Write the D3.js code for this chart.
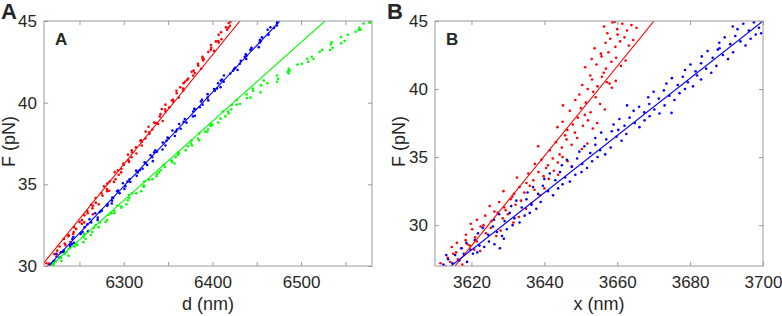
<!DOCTYPE html>
<html><head><meta charset="utf-8">
<script src="https://cdn.jsdelivr.net/npm/d3@7"></script>
<style>
body{margin:0;background:#fff}
svg{display:block}
text{font-family:"Liberation Sans",Arial,Helvetica,sans-serif;fill:#262626}
</style>
</head><body>
<svg id="chart" width="782" height="316"></svg>
<script>
// ---------- Panel A data : [d (nm), F (pN)] ----------
const redA = [[6215,30.05],[6215.5,30.15],[6224,30.58],[6224.4,30.75],[6224.9,30.94],[6233.4,31.37],[6239.8,31.47],[6237.3,31.82],[6237.8,31.89],[6246.2,32.27],
[6252.7,32.59],[6250.2,32.70],[6255.6,33.10],[6265.1,33.17],[6264.6,33.53],[6263.1,33.75],[6268.5,33.88],[6276,34.31],[6283.5,34.61],[6280.9,34.71],
[6281.4,35.05],[6288.9,35.15],[6294.3,35.58],[6289.8,35.75],[6297.3,35.94],[6305.8,36.37],[6305.2,36.47],[6304.7,36.82],[6314.2,36.89],[6313.6,37.27],
[6320.1,37.59],[6319.6,37.70],[6329,38.10],[6328.5,38.17],[6328,38.53],[6336.5,38.75],[6343.9,38.88],[6341.4,39.31],[6342.9,39.61],[6351.3,39.71],
[6355.8,40.05],[6354.3,40.15],[6359.7,40.58],[6367.2,40.75],[6363.7,40.94],[6371.2,41.37],[6372.6,41.47],[6380.1,41.82],[6376.6,41.89],[6384,42.27],
[6389.5,42.59],[6389,42.70],[6395.4,43.10],[6401.9,43.17],[6398.4,43.53],[6403.9,43.75],[6410.3,43.88],[6409.8,44.31],[6415.3,44.61],[6419.7,44.71],[6420.2,44.95],
[6212.7,30.17],[6221.2,30.31],[6221.6,30.73],[6230.1,30.86],[6227.6,31.19],[6234.1,31.28],[6232.5,31.66],[6243.0,31.96],[6243.5,32.08],[6243.9,32.38],
[6255.4,32.67],[6252.9,32.81],[6259.3,33.23],[6258.8,33.36],[6265.3,33.69],[6271.8,33.78],[6268.2,34.16],[6274.7,34.46],[6281.2,34.58],[6277.6,34.88],
[6284.1,35.17],[6290.6,35.31],[6297.0,35.73],[6293.5,35.86],[6300.0,36.19],[6299.5,36.28],[6308.9,36.66],[6309.4,36.96],[6308.9,37.08],[6320.3,37.38],
[6318.8,37.67],[6324.3,37.81],[6324.7,38.23],[6332.2,38.36],[6338.7,38.69],[6334.2,38.78],[6340.6,39.16],[6347.1,39.46],[6346.6,39.58],[6347.0,39.88],
[6355.5,40.17],[6362.0,40.31],[6359.4,40.73],[6366.9,40.86],[6367.4,41.19],[6368.9,41.28],[6378.3,41.66],[6378.8,41.96],[6387.3,42.08],[6383.7,42.38],
[6390.2,42.67],[6388.7,42.81],[6398.1,43.23],[6398.6,43.36],[6407.1,43.69],[6406.6,43.78],[6407.0,44.16],[6416.5,44.46],[6418.0,44.58],[6418.4,44.88]];
const blueA = [[6217,30.07],[6218.3,30.14],[6227.6,30.52],[6228.9,30.84],[6232.2,30.95],[6241.5,31.35],[6243.8,31.42],[6243.1,31.78],[6251.4,32.00],[6259.7,32.13],
[6259,32.56],[6261.3,32.86],[6270.6,32.96],[6272.9,33.30],[6275.2,33.40],[6286.5,33.83],[6286.8,34.00],[6287.1,34.19],[6293.4,34.62],[6300.7,34.72],
[6299,35.07],[6307.3,35.14],[6314.6,35.52],[6313.9,35.84],[6321.2,35.95],[6323.5,36.35],[6332.8,36.42],[6330.1,36.78],[6337.4,37.00],[6343.7,37.13],
[6344,37.56],[6349.3,37.86],[6357.6,37.96],[6354.9,38.30],[6364.2,38.40],[6367.5,38.83],[6368.8,39.00],[6380.1,39.19],[6379.4,39.62],[6385.7,39.72],
[6387,40.07],[6395.3,40.14],[6394.6,40.52],[6401.9,40.84],[6409.2,40.95],[6409.5,41.35],[6410.8,41.42],[6420.1,41.78],[6428.4,42.00],[6425.7,42.13],
[6432,42.56],[6438.3,42.86],[6437.6,42.96],[6443.9,43.30],[6452.2,43.40],[6453.5,43.83],[6455.8,44.00],[6463.1,44.19],[6465.4,44.62],[6472.7,44.72],[6473,44.95],
[6220.2,30.17],[6221.5,30.31],[6223.8,30.73],[6232.1,30.86],[6239.4,31.19],[6239.7,31.28],[6242.0,31.66],[6251.3,31.96],[6253.6,32.08],[6255.9,32.38],
[6263.2,32.67],[6270.5,32.81],[6267.8,33.23],[6274.1,33.36],[6281.4,33.69],[6281.7,33.78],[6288.0,34.16],[6295.3,34.46],[6292.6,34.58],[6301.9,34.88],
[6304.2,35.17],[6306.5,35.31],[6315.8,35.73],[6318.1,35.86],[6326.4,36.19],[6324.7,36.28],[6332.0,36.66],[6334.3,36.96],[6335.6,37.08],[6346.9,37.38],
[6348.2,37.67],[6350.5,37.81],[6358.8,38.23],[6360.1,38.36],[6362.4,38.69],[6370.7,38.78],[6378.0,39.16],[6378.3,39.46],[6380.6,39.58],[6388.9,39.88],
[6388.2,40.17],[6394.5,40.31],[6402.8,40.73],[6405.1,40.86],[6406.4,41.19],[6412.7,41.28],[6413.0,41.66],[6423.3,41.96],[6424.6,42.08],[6430.9,42.38],
[6438.2,42.67],[6436.5,42.81],[6442.8,43.23],[6444.1,43.36],[6453.4,43.69],[6454.7,43.78],[6463.0,44.16],[6462.3,44.46],[6469.6,44.58],[6472.9,44.88]];
const greenA = [[6221,30.02],[6223.2,30.28],[6229.5,30.50],[6237.7,30.63],[6237.9,31.06],[6246.1,31.36],[6254.4,31.46],[6254.6,31.80],[6262.8,31.90],[6266,32.33],
[6268.3,32.50],[6279.5,32.69],[6282.7,33.12],[6285.9,33.22],[6297.2,33.57],[6297.4,33.64],[6304.6,34.02],[6305.8,34.34],[6314.1,34.45],[6322.3,34.85],
[6322.5,34.92],[6328.7,35.28],[6337,35.50],[6337.2,35.63],[6346.4,36.06],[6354.6,36.36],[6353.9,36.46],[6361.1,36.80],[6362.3,36.90],[6372.5,37.33],
[6375.8,37.50],[6385,37.69],[6385.2,38.12],[6394.4,38.22],[6397.7,38.57],[6399.9,38.64],[6409.1,39.02],[6418.3,39.34],[6417.6,39.45],[6421.8,39.85],
[6431,39.92],[6438.8,40.28],[6438.5,40.50],[6454.3,40.63],[6455,41.06],[6458,41.36],[6474,41.46],[6486,41.80],[6485,41.90],[6496,42.33],
[6508,42.50],[6507,42.69],[6521,43.12],[6532.8,43.22],[6533.5,43.57],[6545.3,43.64],[6545,44.02],[6561.5,44.34],[6565,44.45],[6570.5,44.85],[6578,44.92],
[6220.6,30.17],[6229.8,30.31],[6233.1,30.73],[6235.3,30.86],[6244.5,31.19],[6247.7,31.28],[6257.0,31.66],[6255.2,31.96],[6264.4,32.08],[6271.6,32.38],
[6272.9,32.67],[6281.1,32.81],[6289.3,33.23],[6289.5,33.36],[6292.8,33.69],[6303.0,33.78],[6306.2,34.16],[6309.4,34.46],[6319.7,34.58],[6322.9,34.88],
[6323.1,35.17],[6332.3,35.31],[6339.6,35.73],[6341.8,35.86],[6345.0,36.19],[6357.2,36.28],[6358.5,36.66],[6361.7,36.96],[6369.9,37.08],[6377.1,37.38],
[6376.4,37.67],[6383.6,37.81],[6391.8,38.23],[6395.0,38.36],[6398.3,38.69],[6406.5,38.78],[6414.7,39.16],[6411.9,39.46],[6421.2,39.58],[6427.4,39.88],
[6427.4,40.17],[6443.1,40.31],[6445.9,40.73],[6445.6,40.86],[6462,41.19],[6473,41.28],[6473,41.66],[6487,41.96],[6486,42.08],[6501,42.38],
[6514,42.67],[6512,42.81],[6523.9,43.23],[6535.6,43.36],[6534.4,43.69],[6549.1,43.78],[6552.8,44.16],[6567.3,44.46],[6565.8,44.58],[6577.3,44.88]];
// fitted lines, panel A: [d, F] end points
const fitRedA = [[6207,30],[6431,45]];
const fitBlueA = [[6215,30],[6476,45]];
const fitGreenA = [[6217,30],[6527,45]];

// ---------- Panel B data : [x (nm), F (pN)] ----------
const redB = [[3611.5,27.2],[3612.8,27.0],[3613.5,27.6],[3614.2,27.3],[3615.0,27.9],[3616.3,27.5],[3617.5,27.1],[3615.8,28.0],
[3614.6,28.4],[3616.0,28.7],[3617.2,28.3],[3618.4,28.9],[3619.5,28.5],[3620.8,28.2],[3621.5,28.8],[3622.4,28.1],[3618.9,28.6],
[3618.5,29.3],[3620.2,29.7],[3621.0,29.1],[3622.5,29.9],[3624.0,29.4],[3625.3,29.8],[3626.8,29.2],[3628.0,29.6],[3623.3,30.0],[3619.8,30.1],
[3621.5,30.4],[3623.8,30.7],[3625.5,30.3],[3627.2,30.9],[3628.6,30.5],[3630.0,30.8],[3631.5,30.2],[3633.0,30.6],[3626.3,31.0],[3629.4,31.1],
[3625.0,31.4],[3627.6,31.7],[3629.0,31.3],[3630.8,31.9],[3632.1,31.5],[3633.6,31.8],[3635.0,31.2],[3636.4,31.6],[3631.2,32.1],
[3628.8,32.5],[3631.7,32.3],[3633.2,32.8],[3634.5,32.4],[3636.0,32.9],[3637.3,32.6],[3638.8,32.2],[3640.0,32.7],[3635.1,33.1],
[3632.5,33.5],[3635.6,33.8],[3637.0,33.3],[3638.4,33.9],[3639.8,33.6],[3641.2,33.4],[3642.6,34.0],[3643.8,33.7],[3640.5,34.2],
[3637.4,34.5],[3639.2,34.8],[3641.0,34.4],[3642.3,34.9],[3643.7,34.6],[3645.0,35.0],[3646.4,34.7],[3647.6,34.3],[3644.2,35.2],
[3638.3,35.8],
[3641.5,35.5],[3643.2,36.1],[3644.8,35.7],[3646.1,36.3],[3647.5,35.9],[3649.0,36.4],[3650.3,35.6],[3651.8,36.0],[3645.7,36.6],[3648.4,36.8],
[3643.6,37.2],[3645.0,37.6],[3646.3,37.0],[3647.8,37.4],[3649.2,37.9],[3650.6,37.3],[3652.0,37.7],[3653.3,37.1],[3654.5,37.5],[3651.1,38.1],
[3645.1,38.8],[3647.0,38.4],[3648.5,39.2],[3650.0,38.6],[3651.4,39.0],[3652.7,38.3],[3654.1,39.4],[3655.3,38.9],[3656.6,38.5],[3649.6,39.6],[3653.4,39.8],
[3650.4,40.3],[3651.9,40.0],[3653.1,40.7],[3654.6,40.2],[3655.8,40.9],[3657.2,40.5],[3658.5,40.1],[3659.6,40.6],[3652.6,41.0],[3656.3,41.2],[3657.9,40.4],
[3651.2,41.6],[3653.0,42.2],[3654.3,41.8],[3655.7,42.4],[3656.9,41.5],[3658.4,42.0],[3659.7,42.3],[3661.0,41.7],[3662.3,42.1],[3657.6,42.7],
[3653.8,43.0],[3655.5,42.6],[3656.8,43.4],[3658.1,43.7],[3659.5,43.1],[3660.8,43.5],[3662.0,43.8],[3663.2,43.2],[3664.4,43.6],[3660.1,44.0],[3657.3,44.1],
[3656.4,44.6],[3658.7,44.9],[3660.0,44.4],[3661.4,44.8],[3662.7,44.3],[3663.9,44.7],[3665.3,44.5],[3659.3,44.95]];
const blueB = [[3612.3,27.1],[3613.6,27.5],[3614.8,27.2],[3615.5,27.8],[3616.7,27.4],[3617.9,27.9],[3618.8,27.3],[3620.4,27.9],[3621.6,28.0],[3613.1,27.8],
[3617.3,28.3],[3618.6,28.7],[3619.7,28.2],[3620.9,28.9],[3622.2,28.5],[3623.5,28.4],[3624.8,28.8],[3626.3,28.6],[3627.8,28.3],[3628.9,29.0],
[3621.8,29.4],[3623.1,29.8],[3624.6,29.3],[3625.9,29.9],[3627.0,29.5],[3628.4,29.2],[3629.7,29.7],[3631.3,30.0],
[3626.2,30.4],[3627.6,30.8],[3629.1,30.3],[3630.5,30.9],[3631.8,30.5],[3633.2,30.2],[3634.6,30.7],[3636.0,30.9],
[3630.9,31.4],[3632.3,31.8],[3633.8,31.3],[3635.1,31.9],[3636.5,31.5],[3637.8,31.2],[3639.0,31.7],
[3635.4,32.4],[3636.9,32.8],[3638.3,32.3],[3639.6,32.9],[3641.0,32.5],[3642.4,32.2],[3643.8,32.7],[3645.0,33.0],
[3640.0,33.4],[3641.5,33.8],[3643.0,33.3],[3644.3,33.9],[3645.7,33.5],[3647.0,33.2],[3648.5,33.7],[3650.2,33.9],
[3644.8,34.4],[3646.2,34.8],[3647.5,34.3],[3649.0,34.9],[3650.4,34.5],[3651.7,34.2],[3653.1,34.7],[3654.6,35.0],
[3649.6,35.4],[3651.0,35.8],[3652.6,35.3],[3654.0,35.9],[3655.3,35.5],[3656.7,35.2],[3658.2,35.7],
[3654.0,36.4],[3655.6,36.8],[3657.0,36.3],[3658.5,36.9],[3659.8,36.5],[3661.2,36.2],[3662.5,36.7],[3660.3,37.0],
[3659.0,37.4],[3660.6,37.8],[3662.0,37.3],[3663.4,37.9],[3664.8,37.5],[3666.1,37.2],[3667.5,37.7],[3668.9,38.0],
[3662.7,38.8],[3664.5,38.4],[3666.0,38.7],[3667.4,38.3],[3668.8,38.9],[3670.2,38.5],[3671.6,38.2],[3674.9,38.25],[3673.0,38.8],
[3668.5,39.4],[3670.0,39.8],[3671.4,39.3],[3672.8,39.9],[3674.3,39.5],[3675.7,39.2],[3677.1,39.7],[3678.6,40.0],
[3673.5,40.4],[3675.0,40.8],[3676.6,40.3],[3678.0,40.9],[3679.4,40.5],[3680.8,40.2],[3683.0,40.7],[3681.9,41.0],
[3678.6,41.4],[3680.1,41.8],[3681.5,41.3],[3683.0,41.9],[3684.4,41.5],[3685.8,41.2],[3687.2,41.7],
[3683.2,42.4],[3684.8,42.8],[3686.2,42.3],[3687.6,42.9],[3689.0,42.5],[3690.4,42.2],[3691.8,42.7],[3688.1,43.0],
[3688.0,43.4],[3689.5,43.8],[3691.0,43.3],[3692.4,43.9],[3693.8,43.5],[3695.2,43.2],[3696.6,43.7],[3698.0,44.0],
[3693.0,44.4],[3694.6,44.8],[3696.1,44.3],[3697.5,44.9],[3698.9,44.5],[3699.5,44.1],[3691.7,44.6]];
const fitRedB = [[3615.5,27],[3670.1,45]];
const fitBlueB = [[3614.4,27],[3700,45]];

// ---------- ticks / labels ----------
const xTicksA = [6250,6300,6350,6400,6450,6500,6550];
const xTickLabelsA = [6300,6400,6500];
const yTicksA = [30,35,40,45];
const xTicksB = [3620,3640,3660,3680,3700];
const yTicksB = [30,35,40,45];

const panels = [
  {tag:"A", left:44, right:372, xDomain:[6210,6580], yDomain:[30,45], xTicks:xTicksA, xLabels:xTickLabelsA,
   yTicks:yTicksA, xTitle:"d (nm)", yTitleX:15, letterX:1,
   series:[{pts:redA,c:"#ff0000"},{pts:blueA,c:"#0000ff"},{pts:greenA,c:"#00ff00"}],
   fits:[{p:fitRedA,c:"#ff0000"},{p:fitBlueA,c:"#0000ff"},{p:fitGreenA,c:"#00ff00"}], r:1.3},
  {tag:"B", left:435, right:763, xDomain:[3610,3700], yDomain:[27,45], xTicks:xTicksB, xLabels:xTicksB,
   yTicks:yTicksB, xTitle:"x (nm)", yTitleX:405, letterX:387,
   series:[{pts:redB,c:"#ff0000"},{pts:blueB,c:"#0000ff"}],
   fits:[{p:fitRedB,c:"#ff0000"},{p:fitBlueB,c:"#0000ff"}], r:1.3}
];
const plotTop = 21, plotBottom = 266;
const svg = d3.select("#chart");
const axisColor = "#9a9a9a";

panels.forEach((P, idx) => {
  const x = d3.scaleLinear().domain(P.xDomain).range([P.left, P.right]);
  const y = d3.scaleLinear().domain(P.yDomain).range([plotBottom, plotTop]);
  const g = svg.append("g");
  const cid = "clip" + idx;
  svg.append("clipPath").attr("id", cid).append("rect")
    .attr("x", P.left).attr("y", plotTop).attr("width", P.right - P.left).attr("height", plotBottom - plotTop);

  const plot = g.append("g").attr("clip-path", `url(#${cid})`);
  P.series.forEach(s => {
    plot.append("g").selectAll("circle").data(s.pts).join("circle")
      .attr("cx", d => x(d[0])).attr("cy", d => y(d[1])).attr("r", P.r).attr("fill", s.c);
  });
  const line = d3.line().x(d => x(d[0])).y(d => y(d[1]));
  P.fits.forEach(f => {
    plot.append("path").attr("d", line(f.p)).attr("fill", "none").attr("stroke", f.c).attr("stroke-width", 1.1);
  });

  const fmt = v => P.xLabels.includes(v) ? String(v) : "";
  const ax = [
    g.append("g").attr("transform", `translate(0,${plotBottom})`).call(d3.axisBottom(x).tickValues(P.xTicks).tickFormat(fmt).tickSizeInner(-4).tickSizeOuter(0).tickPadding(10)),
    g.append("g").attr("transform", `translate(0,${plotTop})`).call(d3.axisTop(x).tickValues(P.xTicks).tickFormat("").tickSizeInner(-4).tickSizeOuter(0)),
    g.append("g").attr("transform", `translate(${P.left},0)`).call(d3.axisLeft(y).tickValues(P.yTicks).tickFormat(d3.format("d")).tickSizeInner(-4).tickSizeOuter(0).tickPadding(7)),
    g.append("g").attr("transform", `translate(${P.right},0)`).call(d3.axisRight(y).tickValues(P.yTicks).tickFormat("").tickSizeInner(-4).tickSizeOuter(0))
  ];
  ax.forEach(a => {
    a.select(".domain").remove();
    a.selectAll("line").attr("stroke", axisColor);
    a.selectAll("text").attr("font-size", 17).attr("fill", "#262626")
      .attr("font-family", '"Liberation Sans",Arial,sans-serif');
  });
  g.append("rect").attr("x", P.left).attr("y", plotTop).attr("width", P.right - P.left).attr("height", plotBottom - plotTop)
    .attr("fill", "none").attr("stroke", axisColor).attr("stroke-width", 1);

  g.append("text").attr("x", (P.left + P.right) / 2).attr("y", 310).attr("text-anchor", "middle")
    .attr("font-size", 18).text(P.xTitle);
  g.append("text").attr("transform", `translate(${P.yTitleX},${(plotTop + plotBottom) / 2 - 2}) rotate(-90)`)
    .attr("text-anchor", "middle").attr("font-size", 18).text("F (pN)");
  g.append("text").attr("x", P.left + 11).attr("y", 45).attr("font-size", 17).attr("font-weight", "bold").text(P.tag);
  g.append("text").attr("x", P.letterX).attr("y", 19).attr("font-size", 22).attr("font-weight", "bold").text(P.tag);
});
</script>
</body></html>
